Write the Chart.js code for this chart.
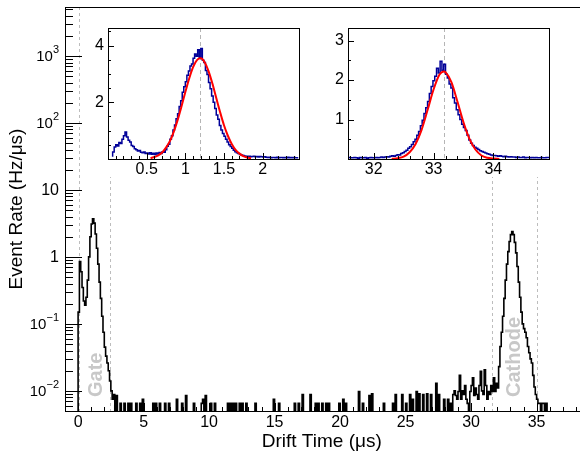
<!DOCTYPE html>
<html>
<head>
<meta charset="utf-8">
<script src="https://cdn.jsdelivr.net/npm/chart.js@4.4.0/dist/chart.umd.min.js"></script>
<style>
  html, body { margin: 0; padding: 0; background: #fff; overflow: hidden; }
  body { width: 580px; height: 457px; position: relative; }
  canvas { position: absolute; }
  #mainChart { left: 0; top: 0; }
  #gateInset { left: 84px; top: 8px; background: #fff; }
  #cathodeInset { left: 324px; top: 8px; background: #fff; }
</style>
</head>
<body>
<canvas id="mainChart" width="589" height="457"></canvas>
<canvas id="gateInset" width="222" height="169"></canvas>
<canvas id="cathodeInset" width="232" height="169"></canvas>
<script>
// ---- main histogram (0.1 us bins) ----
const binWidth = 0.1;
const histEnd = 38;
const gateStart = 0.0;
const gateRate = [0, 0.15, 0.85, 0.6, 0.35, 0.22, 0.19, 0.25, 0.45, 1.0,
  2.0, 3.1, 3.7, 3.2, 2.2, 1.35, 0.78, 0.42, 0.24, 0.13,
  0.075, 0.045, 0.033, 0.026, 0.02, 0.014, 0.01, 0.0075, 0.0088, 0];
const noiseTime = [3.0, 3.3, 3.6, 3.9, 4.1, 4.5, 4.8, 5.0, 5.8, 6.0, 6.3, 6.7, 7.0, 7.6, 8.0, 8.3,
  8.9, 9.5, 9.6, 9.8, 10.2, 10.5, 11.5, 11.7, 11.9, 12.1, 12.4, 12.6, 12.9, 13.6, 15.0, 15.4,
  16.6, 16.9, 17.2, 17.8, 18.2, 18.4, 18.7, 19.0, 19.2, 20.0, 20.3, 20.5, 21.5, 21.8, 22.3, 22.5,
  23.4, 24.1, 24.3, 24.8, 25.1, 25.4, 25.6, 25.9, 26.1, 26.4, 26.7, 27.0, 27.4, 27.6];
const noiseRate = [0.0085, 0.0065, 0.0065, 0.0065, 0.0065, 0.0065, 0.0065, 0.0075, 0.0065, 0.0065, 0.0065, 0.0065, 0.0065, 0.0075, 0.0065, 0.0085,
  0.0065, 0.0065, 0.0075, 0.0085, 0.0065, 0.0065, 0.0065, 0.0065, 0.0065, 0.0065, 0.0065, 0.0065, 0.0065, 0.0065, 0.0075, 0.0065,
  0.0065, 0.0065, 0.0088, 0.0088, 0.0065, 0.0065, 0.0065, 0.0065, 0.0065, 0.0065, 0.0075, 0.0065, 0.0098, 0.0065, 0.0085, 0.009,
  0.0065, 0.0065, 0.0088, 0.0088, 0.0065, 0.0088, 0.0075, 0.0098, 0.009, 0.0088, 0.009, 0.0088, 0.013, 0.0088];
const cathodeStart = 28.0;
const cathodeRate = [0.0075, 0, 0, 0.0075, 0, 0.0065, 0, 0.0088, 0.01, 0.0085,
  0.0075, 0.0098, 0.017, 0.0075, 0.01, 0.0088, 0.012, 0.0075, 0.0065, 0,
  0.0098, 0.012, 0.0156, 0.0085, 0.011, 0.0088, 0.0075, 0.012, 0.0195, 0.01,
  0.0088, 0.0206, 0.012, 0.0075, 0.0098, 0.0088, 0.012, 0.0098, 0.0156, 0.0098,
  0.013, 0.011, 0.023, 0.046, 0.075, 0.13, 0.24, 0.45, 0.78, 1.2,
  1.7, 2.15, 2.4, 2.15, 1.65, 1.15, 0.72, 0.42, 0.25, 0.15,
  0.1, 0.085, 0.075, 0.062, 0.046, 0.037, 0.03, 0.026, 0.017, 0.0114,
  0.0088, 0.0075, 0.0065, 0.0065, 0, 0.0065, 0.0065, 0, 0.0065, 0];

const xTicksMain = [0, 5, 10, 15, 20, 25, 30, 35];
const yDecades = [0.01, 0.1, 1, 10, 100, 1000];
const yTickBase = ['10', '10', '1', '10', '10', '10'];
const yTickExp = ['\u22122', '\u22121', '', '', '2', '3'];
const windowLines = [0.1, 2.44, 31.6, 35.0];
const regionNames = ['Gate', 'Cathode'];
const regionTimes = [1.37, 33.3];

// ---- gate inset ----
const gateInsetStart = 0.06;
const gateInsetWidth = 0.02;
const gateInsetRate = [0.08, 0.25, 0.42, 0.50, 0.46, 0.58, 0.55, 0.70, 0.82, 0.95,
  0.78, 0.66, 0.60, 0.48, 0.44, 0.36, 0.33, 0.28, 0.30, 0.24,
  0.22, 0.25, 0.19, 0.21, 0.18, 0.22, 0.17, 0.20, 0.16, 0.21,
  0.18, 0.23, 0.19, 0.26, 0.24, 0.33, 0.45, 0.52, 0.70, 0.82,
  1.02, 1.20, 1.42, 1.60, 1.85, 2.05, 2.35, 2.55, 2.72, 2.95,
  3.10, 3.28, 3.35, 3.55, 3.70, 3.62, 3.85, 3.58, 3.90, 3.48,
  3.40, 3.12, 2.98, 2.70, 2.48, 2.22, 2.00, 1.78, 1.55, 1.40,
  1.18, 1.02, 0.90, 0.80, 0.70, 0.60, 0.50, 0.44, 0.38, 0.31,
  0.26, 0.22, 0.19, 0.16, 0.14, 0.12, 0.11, 0.10, 0.09, 0.10,
  0.08, 0.09, 0.10, 0.08, 0.09, 0.07, 0.09, 0.08, 0.07, 0.08,
  0.06, 0.05, 0.06, 0.04, 0.05, 0.05, 0.04, 0.06, 0.04, 0.05,
  0.05, 0.04, 0.05, 0.04, 0.06, 0.04, 0.05, 0.04, 0.05, 0.04];
const gateFitTime = [0.55, 0.60, 0.65, 0.70, 0.75, 0.80, 0.85, 0.90, 0.95, 1.00, 1.05, 1.10, 1.15, 1.20,
  1.25, 1.30, 1.35, 1.40, 1.45, 1.50, 1.55, 1.60, 1.65, 1.70, 1.75, 1.80, 1.85];
const gateFitRate = [0.03, 0.07, 0.13, 0.23, 0.40, 0.63, 0.96, 1.37, 1.85, 2.36, 2.84, 3.24, 3.49, 3.55,
  3.41, 3.10, 2.66, 2.15, 1.65, 1.19, 0.82, 0.53, 0.32, 0.19, 0.10, 0.05, 0.03];
const gatePeak = 1.19;
const gateXLabels = [0.5, 1, 1.5, 2];
const gateYLabels = [2, 4];

// ---- cathode inset ----
const cathodeInsetStart = 31.58;
const cathodeInsetWidth = 0.03;
const cathodeInsetRate = [0.03, 0.04, 0.03, 0.03, 0.04, 0.03, 0.02, 0.04, 0.03, 0.03,
  0.04, 0.02, 0.03, 0.04, 0.03, 0.03, 0.04, 0.03, 0.04, 0.05,
  0.04, 0.05, 0.06, 0.05, 0.07, 0.08, 0.07, 0.09, 0.11, 0.10,
  0.14, 0.16, 0.19, 0.22, 0.27, 0.31, 0.37, 0.44, 0.50, 0.60,
  0.70, 0.84, 0.98, 1.15, 1.30, 1.46, 1.66, 1.84, 1.98, 2.10,
  2.30, 2.18, 2.48, 2.25, 2.40, 2.15, 2.05, 1.90, 1.80, 1.55,
  1.42, 1.25, 1.12, 1.00, 0.88, 0.80, 0.72, 0.60, 0.48, 0.40,
  0.34, 0.30, 0.27, 0.24, 0.21, 0.19, 0.17, 0.15, 0.13, 0.12,
  0.10, 0.09, 0.09, 0.08, 0.07, 0.08, 0.07, 0.06, 0.07, 0.06,
  0.05, 0.06, 0.05, 0.05, 0.04, 0.05, 0.04, 0.04, 0.05, 0.03,
  0.04, 0.04, 0.03, 0.04, 0.03, 0.04, 0.03, 0.03, 0.04, 0.03,
  0.03, 0.04];
const cathodeFitTime = [32.3, 32.4, 32.5, 32.6, 32.7, 32.8, 32.9, 33.0, 33.1, 33.17, 33.2, 33.3,
  33.4, 33.5, 33.6, 33.7, 33.8, 33.9, 34.0, 34.1];
const cathodeFitRate = [0.005, 0.02, 0.06, 0.17, 0.38, 0.74, 1.24, 1.76, 2.14, 2.22, 2.20, 1.94,
  1.45, 0.93, 0.51, 0.24, 0.09, 0.03, 0.01, 0.002];
const cathodePeak = 33.17;
const cathodeXLabels = [32, 33, 34];
const cathodeYLabels = [1, 2, 3];

const FONT = '"Liberation Sans", Arial, Helvetica, sans-serif';
Chart.defaults.font.family = FONT;
Chart.defaults.color = '#000';

function histPoints(start, width, rates, floor) {
  const pts = rates.map((v, i) => ({ x: +(start + i * width).toFixed(4), y: v > 0 ? v : floor }));
  pts.push({ x: +(start + rates.length * width).toFixed(4), y: pts[pts.length - 1].y });
  return pts;
}

// fill the full main histogram from the pieces
const mainRate = new Array(Math.round(histEnd / binWidth)).fill(0);
gateRate.forEach((v, i) => { mainRate[Math.round(gateStart / binWidth) + i] = v; });
noiseTime.forEach((t, i) => { mainRate[Math.round(t / binWidth)] = noiseRate[i]; });
cathodeRate.forEach((v, i) => { mainRate[Math.round(cathodeStart / binWidth) + i] = v; });

function drawTicks(ctx, scale, values, len, horizontal, area) {
  values.forEach(v => {
    const p = Math.round(scale.getPixelForValue(v)) + 0.5;
    ctx.beginPath();
    if (horizontal) { ctx.moveTo(p, area.bottom); ctx.lineTo(p, area.bottom - len); }
    else { ctx.moveTo(area.left, p); ctx.lineTo(area.left + len, p); }
    ctx.stroke();
  });
}

function stepValues(min, max, step) {
  const out = [];
  const first = Math.ceil(min / step - 1e-6);
  for (let k = first; k * step <= max + 1e-6; k++) out.push(+(k * step).toFixed(4));
  return out;
}

const mainDecor = {
  id: 'mainDecor',
  beforeDatasetsDraw(chart) {
    const { ctx, chartArea: a, scales: { x } } = chart;
    ctx.save();
    ctx.strokeStyle = '#bdbdbd';
    ctx.lineWidth = 1;
    ctx.setLineDash([3, 3]);
    windowLines.forEach(t => {
      const px = Math.round(x.getPixelForValue(t)) + 0.5;
      ctx.beginPath(); ctx.moveTo(px, a.top); ctx.lineTo(px, a.bottom); ctx.stroke();
    });
    ctx.setLineDash([]);
    ctx.fillStyle = '#c8c8c8';
    ctx.font = 'bold 20px ' + FONT;
    ctx.textAlign = 'left';
    ctx.textBaseline = 'middle';
    regionNames.forEach((name, i) => {
      ctx.save();
      ctx.translate(x.getPixelForValue(regionTimes[i]), a.bottom - 14);
      ctx.rotate(-Math.PI / 2);
      ctx.fillText(name, 0, 0);
      ctx.restore();
    });
    ctx.restore();
  },
  afterDraw(chart) {
    const { ctx, chartArea: a, scales: { x, y } } = chart;
    ctx.save();
    ctx.strokeStyle = '#000';
    ctx.lineWidth = 1;
    ctx.strokeRect(a.left + 0.5, a.top + 0.5, a.width, a.height);
    const xs = stepValues(0, x.max, 1);
    drawTicks(ctx, x, xs.filter(v => v % 5 !== 0), 4, true, a);
    drawTicks(ctx, x, xs.filter(v => v % 5 === 0), 8, true, a);
    const minor = [], major = [];
    for (let k = -3; k <= 3; k++) {
      for (let m = 1; m <= 9; m++) {
        const v = m * Math.pow(10, k);
        if (v < y.min || v > y.max) continue;
        (m === 1 ? major : minor).push(v);
      }
    }
    drawTicks(ctx, y, minor, 8, false, a);
    drawTicks(ctx, y, major, 17, false, a);
    ctx.fillStyle = '#000';
    ctx.textAlign = 'right';
    ctx.textBaseline = 'middle';
    const right = a.left - 6;
    yDecades.forEach((v, i) => {
      const py = y.getPixelForValue(v);
      if (yTickExp[i]) {
        ctx.font = '11px ' + FONT;
        const ew = ctx.measureText(yTickExp[i]).width;
        ctx.fillText(yTickExp[i], right, py - 6);
        ctx.font = '15px ' + FONT;
        ctx.fillText(yTickBase[i], right - ew, py + 1);
      } else {
        ctx.font = '16px ' + FONT;
        ctx.fillText(yTickBase[i], right, py + 1);
      }
    });
    // x axis title, centred a little left of the (clipped) frame centre as in the original
    ctx.font = '19px ' + FONT;
    ctx.textAlign = 'center';
    ctx.fillText('Drift Time (\u03bcs)', x.getPixelForValue(18.6), 442);
    ctx.restore();
  }
};

new Chart(document.getElementById('mainChart'), {
  type: 'line',
  data: {
    datasets: [{
      data: histPoints(0, binWidth, mainRate, 1e-4),
      borderColor: '#000',
      borderWidth: 1.6,
      pointRadius: 0,
      stepped: 'after',
      fill: false
    }]
  },
  options: {
    responsive: false,
    animation: false,
    devicePixelRatio: 1,
    layout: { padding: { top: 7, right: 0, left: 0, bottom: 0 } },
    plugins: { legend: { display: false }, tooltip: { enabled: false } },
    scales: {
      x: {
        type: 'linear', min: -1, max: 39,
        afterFit: s => { s.height = 46; },
        afterBuildTicks: s => { s.ticks = xTicksMain.map(v => ({ value: v })); },
        grid: { display: false, drawTicks: false },
        border: { display: false },
        ticks: { autoSkip: false, maxRotation: 0, padding: 2, font: { size: 16 }, callback: v => String(v) }
      },
      y: {
        type: 'logarithmic', min: 0.005, max: 5400,
        afterFit: s => { s.width = 65; },
        afterBuildTicks: s => { s.ticks = yDecades.map(v => ({ value: v })); },
        grid: { display: false, drawTicks: false },
        border: { display: false },
        ticks: { display: false },
        title: { display: true, text: 'Event Rate (Hz/\u03bcs)', font: { size: 19 }, padding: { top: 5, bottom: 0 } }
      }
    }
  },
  plugins: [mainDecor]
});

function makeInset(id, cfg) {
  const decor = {
    id: 'insetDecor',
    beforeDatasetsDraw(chart) {
      const { ctx, chartArea: a, scales: { x } } = chart;
      ctx.save();
      ctx.strokeStyle = '#b5b5b5';
      ctx.lineWidth = 1;
      ctx.setLineDash([4, 3]);
      const px = Math.round(x.getPixelForValue(cfg.peak)) + 0.5;
      ctx.beginPath(); ctx.moveTo(px, a.top); ctx.lineTo(px, a.bottom); ctx.stroke();
      ctx.restore();
    },
    afterDraw(chart) {
      const { ctx, chartArea: a, scales: { x, y } } = chart;
      ctx.save();
      ctx.strokeStyle = '#000';
      ctx.lineWidth = 1;
      ctx.strokeRect(a.left + 0.5, a.top + 0.5, a.width, a.height);
      drawTicks(ctx, x, stepValues(x.min, x.max, cfg.xMinor), 3, true, a);
      drawTicks(ctx, x, cfg.xLabels, 6, true, a);
      drawTicks(ctx, y, stepValues(y.min, y.max, cfg.yMinor), 3, false, a);
      drawTicks(ctx, y, cfg.yLabels, 6, false, a);
      ctx.restore();
    }
  };
  return new Chart(document.getElementById(id), {
    type: 'line',
    data: {
      datasets: [
        {
          data: cfg.fitTime.map((t, i) => ({ x: t, y: cfg.fitRate[i] })),
          borderColor: '#ff0000', borderWidth: 2, pointRadius: 0,
          cubicInterpolationMode: 'monotone', fill: false
        },
        {
          data: histPoints(cfg.start, cfg.width, cfg.rate, 0),
          borderColor: '#000099', borderWidth: 1.5, pointRadius: 0,
          stepped: 'after', fill: false
        }
      ]
    },
    options: {
      responsive: false,
      animation: false,
      devicePixelRatio: 1,
      layout: { padding: { top: 20, right: 7, left: 0, bottom: 0 } },
      plugins: { legend: { display: false }, tooltip: { enabled: false } },
      scales: {
        x: {
          type: 'linear', min: cfg.xMin, max: cfg.xMax,
          afterFit: s => { s.height = 18; },
          afterBuildTicks: s => { s.ticks = cfg.xLabels.map(v => ({ value: v })); },
          grid: { display: false, drawTicks: false },
          border: { display: false },
          ticks: { autoSkip: false, maxRotation: 0, padding: 1, font: { size: 16 }, callback: v => String(v) }
        },
        y: {
          type: 'linear', min: cfg.yMin, max: cfg.yMax,
          afterFit: s => { s.width = 24; },
          afterBuildTicks: s => { s.ticks = cfg.yLabels.map(v => ({ value: v })); },
          grid: { display: false, drawTicks: false },
          border: { display: false },
          ticks: { autoSkip: false, padding: 4, font: { size: 16 }, callback: v => String(v) }
        }
      }
    },
    plugins: [decor]
  });
}

makeInset('gateInset', {
  start: gateInsetStart, width: gateInsetWidth, rate: gateInsetRate,
  fitTime: gateFitTime, fitRate: gateFitRate, peak: gatePeak,
  xMin: 0.0, xMax: 2.47, yMin: 0, yMax: 4.62,
  xLabels: gateXLabels, yLabels: gateYLabels, xMinor: 0.1, yMinor: 0.5
});

makeInset('cathodeInset', {
  start: cathodeInsetStart, width: cathodeInsetWidth, rate: cathodeInsetRate,
  fitTime: cathodeFitTime, fitRate: cathodeFitRate, peak: cathodePeak,
  xMin: 31.57, xMax: 34.93, yMin: 0, yMax: 3.32,
  xLabels: cathodeXLabels, yLabels: cathodeYLabels, xMinor: 0.2, yMinor: 0.5
});
</script>
</body>
</html>
